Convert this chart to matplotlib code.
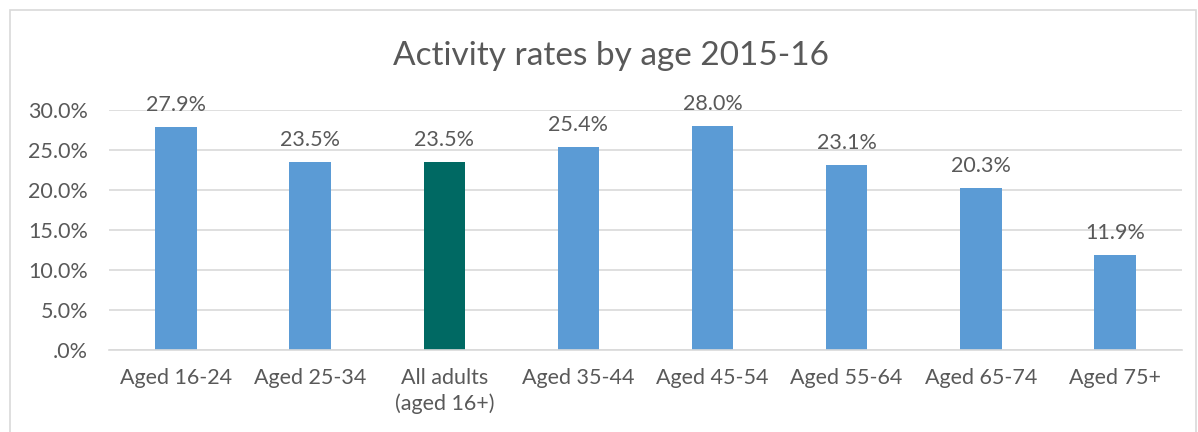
import matplotlib.pyplot as plt
from matplotlib.patches import Rectangle

# data
categories = ['Aged 16-24', 'Aged 25-34', 'All adults\n(aged 16+)', 'Aged 35-44',
              'Aged 45-54', 'Aged 55-64', 'Aged 65-74', 'Aged 75+']
rates = [27.9, 23.5, 23.5, 25.4, 28.0, 23.1, 20.3, 11.9]
yticks = [0, 5, 10, 15, 20, 25, 30]
ytick_labels = ['.0%', '5.0%', '10.0%', '15.0%', '20.0%', '25.0%', '30.0%']

plt.rcParams['font.family'] = ['Lato', 'DejaVu Sans']
txt = '#595959'
blue = '#5B9BD5'
teal = '#006963'
cols = [teal if c.startswith('All') else blue for c in categories]

fig = plt.figure(figsize=(11.98, 4.32), dpi=100)
fig.patches.append(Rectangle((10/1198, -0.01), 1186/1198, (421+5)/432,
                             transform=fig.transFigure, fill=False,
                             edgecolor='#d9d9d9', lw=1.2))
ax = fig.add_axes([109/1198, 82/432, 1073/1198, 240/432])

x = range(len(categories))
ax.bar(x, rates, width=0.31, color=cols, zorder=2)
for i, v in zip(x, rates):
    ax.text(i, v + 1.5, '%.1f%%' % v, ha='center', va='bottom',
            fontsize=15.5, color=txt, clip_on=False)

ax.set_xlim(-0.5, len(categories) - 0.5)
ax.set_ylim(0, 30)
ax.set_yticks(yticks)
ax.set_yticklabels(ytick_labels)
ax.set_xticks(list(x))
ax.set_xticklabels(categories, linespacing=1.35)
ax.tick_params(length=0, labelsize=15.5, labelcolor=txt)
ax.tick_params(axis='x', pad=13)
ax.tick_params(axis='y', pad=15)
ax.grid(axis='y', color='#d9d9d9', lw=1.2, zorder=0)
for s in ['top', 'right', 'left']:
    ax.spines[s].set_visible(False)
ax.spines['bottom'].set_color('#d9d9d9')
ax.spines['bottom'].set_linewidth(1.2)

fig.text(611/1198, 1 - 56/432, 'Activity rates by age 2015-16', ha='center',
         va='center', fontsize=24, color=txt)

fig.savefig('out.png', dpi=100)
